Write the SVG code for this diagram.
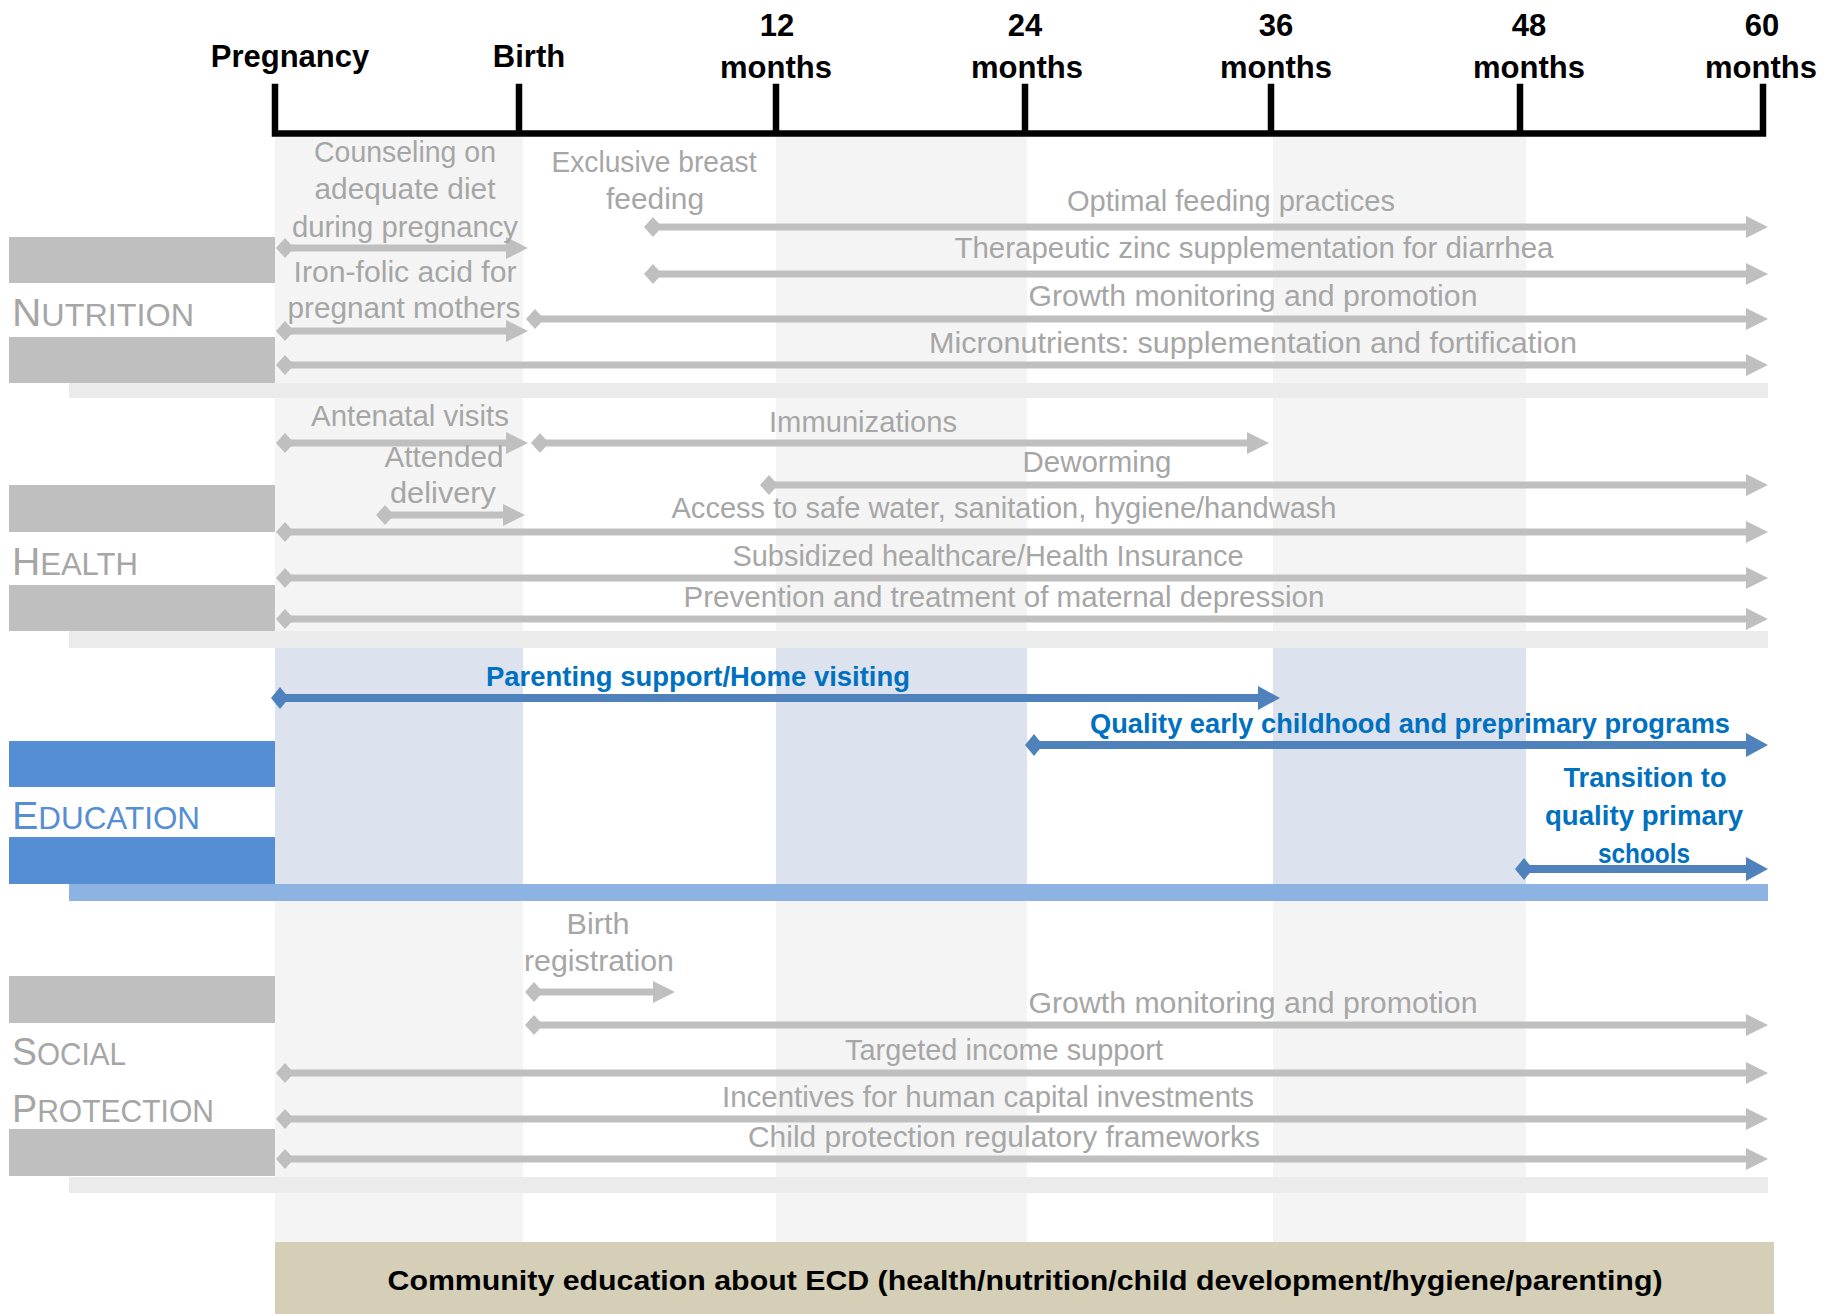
<svg xmlns="http://www.w3.org/2000/svg" width="1837" height="1314" viewBox="0 0 1837 1314">
<style>
text{font-family:"Liberation Sans",Arial,sans-serif}
.ax{font-size:31px;font-weight:bold;fill:#000;text-anchor:middle}
.g{font-size:29px;fill:#a6a6a6;text-anchor:middle}
.b{font-size:27.5px;font-weight:bold;fill:#0070c0;text-anchor:middle}
.cat{fill:#a6a6a6}
.catb{fill:#558ed5}
.big{font-size:39px}
.sm{font-size:31px}
.band{fill:#f4f4f4}
.bband{fill:#dce3ee}
.strip{fill:#ebebeb}
.box{fill:#bfbfbf}
.bbox{fill:#558ed5}
.ga{stroke:#bfbfbf;stroke-width:7;fill:none;marker-start:url(#g-dia);marker-end:url(#g-tri)}
.ba{stroke:#4f81bd;stroke-width:8;fill:none;marker-start:url(#b-dia);marker-end:url(#b-tri)}
</style>
<defs>
<marker id="g-tri" markerUnits="userSpaceOnUse" markerWidth="22" markerHeight="22" viewBox="0 0 22 22" refX="0" refY="11" orient="auto"><path d="M0,0 L22,11 L0,22 z" fill="#bfbfbf"/></marker>
<marker id="g-dia" markerUnits="userSpaceOnUse" markerWidth="18" markerHeight="20" viewBox="0 0 18 20" refX="9" refY="10" orient="auto"><path d="M0,10 L9,0 L18,10 L9,20 z" fill="#bfbfbf"/></marker>
<marker id="b-tri" markerUnits="userSpaceOnUse" markerWidth="22" markerHeight="24" viewBox="0 0 22 24" refX="0" refY="12" orient="auto"><path d="M0,0 L22,12 L0,24 z" fill="#4f81bd"/></marker>
<marker id="b-dia" markerUnits="userSpaceOnUse" markerWidth="18" markerHeight="22" viewBox="0 0 18 22" refX="9" refY="11" orient="auto"><path d="M0,11 L9,0 L18,11 L9,22 z" fill="#4f81bd"/></marker>
</defs>
<rect width="1837" height="1314" fill="#fff"/>

<g id="background-bands">
<rect class="band" x="275" y="137" width="248" height="1105"/>
<rect class="band" x="776" y="137" width="251" height="1105"/>
<rect class="band" x="1273" y="137" width="253" height="1105"/>
<rect class="bband" x="275" y="648" width="248" height="236"/>
<rect class="bband" x="776" y="648" width="251" height="236"/>
<rect class="bband" x="1273" y="648" width="253" height="236"/>
<rect class="strip" x="69" y="383" width="1699" height="15"/>
<rect class="strip" x="69" y="631" width="1699" height="17"/>
<rect fill="#8db3e2" x="69" y="884" width="1699" height="17"/>
<rect class="strip" x="69" y="1177" width="1699" height="16"/>
</g>

<g id="timeline-axis">
<path d="M275,87 V133.5 H1763 V87 M519,87 V133.5 M776,87 V133.5 M1025,87 V133.5 M1271,87 V133.5 M1520,87 V133.5" fill="none" stroke="#000" stroke-width="6.5" stroke-linejoin="miter" stroke-linecap="square"/>
<text class="ax" x="290" y="67">Pregnancy</text>
<text class="ax" x="529" y="67">Birth</text>
<text class="ax" x="777" y="36">12</text><text class="ax" x="776" y="78">months</text>
<text class="ax" x="1025" y="36">24</text><text class="ax" x="1027" y="78">months</text>
<text class="ax" x="1276" y="36">36</text><text class="ax" x="1276" y="78">months</text>
<text class="ax" x="1529" y="36">48</text><text class="ax" x="1529" y="78">months</text>
<text class="ax" x="1762" y="36">60</text><text class="ax" x="1761" y="78">months</text>
</g>

<g id="cat-nutrition">
<rect class="box" x="9" y="237" width="266" height="46"/>
<rect class="box" x="9" y="337" width="266" height="46"/>
<text class="cat" x="12" y="326" textLength="182" lengthAdjust="spacingAndGlyphs"><tspan class="big">N</tspan><tspan class="sm">UTRITION</tspan></text>
</g>
<g id="cat-health">
<rect class="box" x="9" y="485" width="266" height="47"/>
<rect class="box" x="9" y="585" width="266" height="46"/>
<text class="cat" x="12" y="575" textLength="126" lengthAdjust="spacingAndGlyphs"><tspan class="big">H</tspan><tspan class="sm">EALTH</tspan></text>
</g>
<g id="cat-education">
<rect class="bbox" x="9" y="741" width="266" height="46"/>
<rect class="bbox" x="9" y="837" width="266" height="47"/>
<text class="catb" x="12" y="829" textLength="188" lengthAdjust="spacingAndGlyphs"><tspan class="big">E</tspan><tspan class="sm">DUCATION</tspan></text>
</g>
<g id="cat-social-protection">
<rect class="box" x="9" y="976" width="266" height="47"/>
<rect class="box" x="9" y="1129" width="266" height="47"/>
<text class="cat" x="12" y="1065" textLength="114" lengthAdjust="spacingAndGlyphs"><tspan class="big">S</tspan><tspan class="sm">OCIAL</tspan></text>
<text class="cat" x="12" y="1122" textLength="202" lengthAdjust="spacingAndGlyphs"><tspan class="big">P</tspan><tspan class="sm">ROTECTION</tspan></text>
</g>

<g id="connectors">
<path class="ga" d="M285,248 H506"/>
<path class="ga" d="M653,227 H1746"/>
<path class="ga" d="M653,274 H1746"/>
<path class="ga" d="M535,319 H1746"/>
<path class="ga" d="M285,331 H506"/>
<path class="ga" d="M285,365 H1746"/>
<path class="ga" d="M285,443 H506"/>
<path class="ga" d="M540,443 H1247"/>
<path class="ga" d="M385,515 H503"/>
<path class="ga" d="M769,485 H1746"/>
<path class="ga" d="M285,532 H1746"/>
<path class="ga" d="M285,578 H1746"/>
<path class="ga" d="M285,619 H1746"/>
<path class="ba" d="M280,698 H1258"/>
<path class="ba" d="M1034,745 H1746"/>
<path class="ba" d="M1524,869 H1746"/>
<path class="ga" d="M534,992 H653"/>
<path class="ga" d="M534,1025 H1746"/>
<path class="ga" d="M285,1073 H1746"/>
<path class="ga" d="M285,1119 H1746"/>
<path class="ga" d="M285,1159 H1746"/>
</g>

<g id="nutrition-labels">
<g id="counseling"><text class="g" x="405" y="162" textLength="182" lengthAdjust="spacingAndGlyphs">Counseling on</text><text class="g" x="405" y="199" textLength="181" lengthAdjust="spacingAndGlyphs">adequate diet</text><text class="g" x="405" y="237" textLength="226" lengthAdjust="spacingAndGlyphs">during pregnancy</text></g>
<g id="breastfeeding"><text class="g" x="654" y="172" textLength="205" lengthAdjust="spacingAndGlyphs">Exclusive breast</text><text class="g" x="655" y="209" textLength="98" lengthAdjust="spacingAndGlyphs">feeding</text></g>
<g id="optimal-feeding"><text class="g" x="1231" y="211" textLength="328" lengthAdjust="spacingAndGlyphs">Optimal feeding practices</text></g>
<g id="zinc"><text class="g" x="1254" y="258" textLength="599" lengthAdjust="spacingAndGlyphs">Therapeutic zinc supplementation  for diarrhea</text></g>
<g id="growth-n"><text class="g" x="1253" y="306" textLength="449" lengthAdjust="spacingAndGlyphs">Growth monitoring and promotion</text></g>
<g id="iron-folic"><text class="g" x="405" y="282" textLength="223" lengthAdjust="spacingAndGlyphs">Iron-folic acid for</text><text class="g" x="404" y="318" textLength="233" lengthAdjust="spacingAndGlyphs">pregnant mothers</text></g>
<g id="micronutrients"><text class="g" x="1253" y="353" textLength="648" lengthAdjust="spacingAndGlyphs">Micronutrients: supplementation and fortification</text></g>
</g>

<g id="health-labels">
<g id="antenatal"><text class="g" x="410" y="426" textLength="198" lengthAdjust="spacingAndGlyphs">Antenatal visits</text></g>
<g id="immunizations"><text class="g" x="863" y="432" textLength="188" lengthAdjust="spacingAndGlyphs">Immunizations</text></g>
<g id="attended"><text class="g" x="444" y="467" textLength="119" lengthAdjust="spacingAndGlyphs">Attended</text><text class="g" x="443" y="503" textLength="106" lengthAdjust="spacingAndGlyphs">delivery</text></g>
<g id="deworming"><text class="g" x="1097" y="472" textLength="149" lengthAdjust="spacingAndGlyphs">Deworming</text></g>
<g id="wash"><text class="g" x="1004" y="518" textLength="665" lengthAdjust="spacingAndGlyphs">Access to safe water, sanitation, hygiene/handwash</text></g>
<g id="subsidized"><text class="g" x="988" y="566" textLength="511" lengthAdjust="spacingAndGlyphs">Subsidized healthcare/Health Insurance</text></g>
<g id="maternal-depression"><text class="g" x="1004" y="607" textLength="641" lengthAdjust="spacingAndGlyphs">Prevention and treatment of maternal depression</text></g>
</g>

<g id="education-labels">
<g id="parenting"><text class="b" x="698" y="686" textLength="424" lengthAdjust="spacingAndGlyphs">Parenting support/Home visiting</text></g>
<g id="preprimary"><text class="b" x="1410" y="733" textLength="640" lengthAdjust="spacingAndGlyphs">Quality early childhood  and preprimary programs</text></g>
<g id="transition"><text class="b" x="1645" y="787" textLength="163" lengthAdjust="spacingAndGlyphs">Transition to</text><text class="b" x="1644" y="825" textLength="198" lengthAdjust="spacingAndGlyphs">quality primary</text><text class="b" x="1644" y="863" textLength="92" lengthAdjust="spacingAndGlyphs">schools</text></g>
</g>

<g id="social-protection-labels">
<g id="birth-registration"><text class="g" x="598" y="934" textLength="63" lengthAdjust="spacingAndGlyphs">Birth</text><text class="g" x="599" y="971" textLength="150" lengthAdjust="spacingAndGlyphs">registration</text></g>
<g id="growth-sp"><text class="g" x="1253" y="1013" textLength="449" lengthAdjust="spacingAndGlyphs">Growth monitoring and promotion</text></g>
<g id="income-support"><text class="g" x="1004" y="1060" textLength="318" lengthAdjust="spacingAndGlyphs">Targeted income support</text></g>
<g id="incentives"><text class="g" x="988" y="1107" textLength="532" lengthAdjust="spacingAndGlyphs">Incentives for human capital investments</text></g>
<g id="child-protection"><text class="g" x="1004" y="1147" textLength="512" lengthAdjust="spacingAndGlyphs">Child protection regulatory frameworks</text></g>
</g>

<g id="community-education">
<rect x="275" y="1242" width="1499" height="72" fill="#d4cfb6"/>
<text x="1025" y="1290" font-size="28" font-weight="bold" fill="#000" text-anchor="middle" textLength="1275" lengthAdjust="spacingAndGlyphs">Community education about ECD (health/nutrition/child  development/hygiene/parenting)</text>
</g>
</svg>
